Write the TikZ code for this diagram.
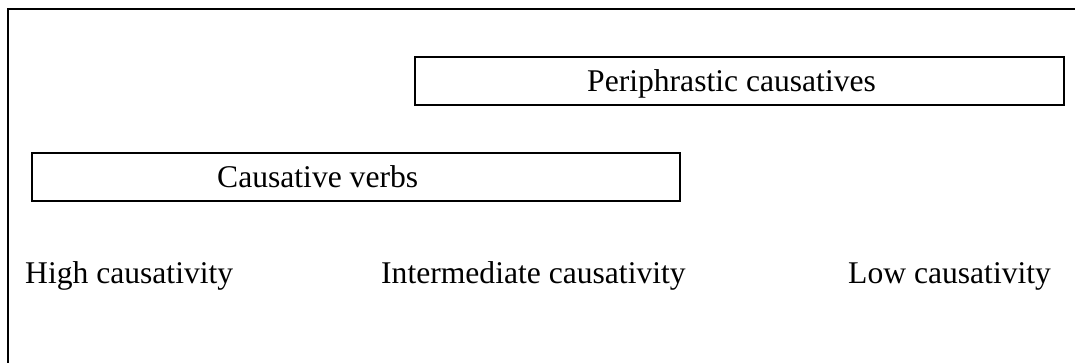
\documentclass[tikz,border=0pt]{standalone}
\usepackage{fontspec}
\setmainfont{Liberation Serif}
\begin{document}
\begin{tikzpicture}[x=1pt,y=-1pt,
  rangebox/.style={draw=black,line width=2pt,rectangle,inner sep=0pt},
  label/.style={anchor=base west,inner sep=0pt,font=\fontsize{31.6}{38}\selectfont}]
  \useasboundingbox (0,0) rectangle (1075,363);
  % open frame along the left and top edges
  \draw[line width=2.2pt] (8,364) -- (8,9) -- (1076,9);
  % scope boxes
  \node[rangebox,minimum width=649pt,minimum height=48pt] (peri) at (739.5,81) {};
  \node[rangebox,minimum width=648pt,minimum height=48pt] (verbs) at (356,177) {};
  \node[label] (periText) at (587,92) {Periphrastic causatives};
  \node[label] (verbsText) at (217,188) {Causative verbs};
  % causativity scale
  \node[label] (high) at (25,283) {High causativity};
  \node[label] (mid) at (381,283) {Intermediate causativity};
  \node[label] (low) at (848,283) {Low causativity};
\end{tikzpicture}
\end{document}
